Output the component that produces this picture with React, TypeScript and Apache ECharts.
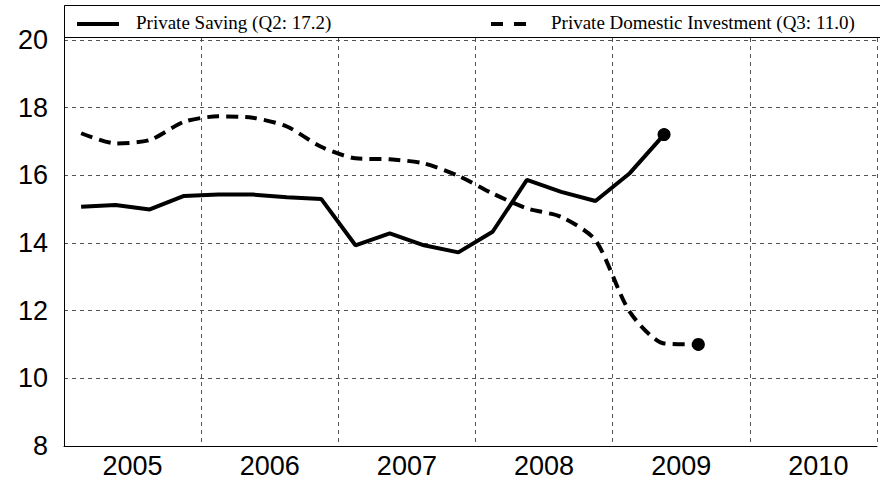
import React, { useEffect, useRef } from "react";
import * as echarts from "echarts";

const years = ["2005", "2006", "2007", "2008", "2009", "2010"];
// quarterly values starting 2005 Q1
const privateSaving = [15.07, 15.12, 14.99, 15.39, 15.43, 15.43, 15.35, 15.3, 13.93, 14.28, 13.93, 13.72, 14.33, 15.86, 15.51, 15.24, 16.06, 17.2];
const privateInvestment = [17.24, 16.94, 17.04, 17.58, 17.74, 17.7, 17.44, 16.84, 16.5, 16.47, 16.35, 15.98, 15.46, 15.02, 14.77, 14.08, 11.96, 11.03, 11.0];
const legendLabels = ["Private Saving (Q2: 17.2)", "Private Domestic Investment (Q3: 11.0)"];
const yTicks = [8, 10, 12, 14, 16, 18, 20];

const toPoints = (arr: number[]) => arr.map((v, i) => [i + 0.5, v]);

export default function App() {
  const ref = useRef<HTMLDivElement>(null);
  useEffect(() => {
    if (!ref.current) return;
    const chart = echarts.init(ref.current, undefined, { renderer: "svg" });
    const sav = toPoints(privateSaving);
    const inv = toPoints(privateInvestment);
    const xMax = 23.71;
    const grid = { left: 64, right: 0, top: 6, bottom: 36 };
    const gridDash = { color: "#555", width: 1, type: [4, 4] as any };
    const sans = "Liberation Sans";
    const serif = "Liberation Serif";
    chart.setOption({
      animation: false,
      backgroundColor: "#fff",
      grid,
      xAxis: [
        {
          type: "value",
          min: 0,
          max: xMax,
          interval: 4,
          axisLine: { show: true, onZero: false, lineStyle: { color: "#000", width: 1 } },
          axisTick: { show: false },
          axisLabel: { show: false },
          splitLine: { show: true, lineStyle: gridDash },
        },
        {
          type: "value",
          position: "bottom",
          min: 0,
          max: xMax,
          interval: 2,
          axisLine: { show: false },
          axisTick: { show: false },
          splitLine: { show: false },
          axisLabel: {
            show: true,
            margin: 6,
            fontFamily: sans,
            fontSize: 27,
            color: "#000",
            showMinLabel: true,
            showMaxLabel: true,
            formatter: (v: number) => {
              const r = Math.round(v);
              if (Math.abs(v - r) > 1e-6 || r % 4 !== 2) return "";
              return years[(r - 2) / 4] ?? "";
            },
          },
        },
      ],
      yAxis: {
        type: "value",
        min: 8,
        max: 21,
        interval: 2,
        axisLine: { show: true, lineStyle: { color: "#000", width: 1 } },
        axisTick: { show: false },
        splitLine: { show: true, lineStyle: gridDash },
        axisLabel: {
          margin: 16,
          fontFamily: sans,
          fontSize: 27,
          color: "#000",
          formatter: (v: number) => (yTicks.includes(v) ? String(v) : ""),
        },
      },
      series: [
        {
          type: "line",
          name: legendLabels[0],
          data: sav,
          symbol: "none",
          lineStyle: { color: "#000", width: 4 },
          z: 3,
        },
        {
          type: "line",
          name: legendLabels[1],
          data: inv,
          symbol: "none",
          smooth: 0.25,
          lineStyle: { color: "#000", width: 4, type: [12, 7] },
          z: 3,
        },
        {
          type: "scatter",
          data: [sav[sav.length - 1], inv[inv.length - 1]],
          symbol: "circle",
          symbolSize: 13,
          itemStyle: { color: "#000", opacity: 1 },
          z: 4,
        },
      ],
      graphic: [
        {
          type: "rect",
          shape: { x: 64.5, y: 5.5, width: 830, height: 32 },
          style: { fill: "#fff", stroke: "#000", lineWidth: 1 },
          z: 100,
        },
        {
          type: "line",
          shape: { x1: 77, y1: 24, x2: 119, y2: 24 },
          style: { stroke: "#000", lineWidth: 4 },
          z: 101,
        },
        {
          type: "text",
          x: 136,
          y: 22,
          style: {
            text: legendLabels[0],
            fontFamily: serif,
            fontSize: 19,
            fill: "#000",
            verticalAlign: "middle",
          },
          z: 101,
        },
        {
          type: "line",
          shape: { x1: 491, y1: 24, x2: 527, y2: 24 },
          style: { stroke: "#000", lineWidth: 4, lineDash: [12, 11] },
          z: 101,
        },
        {
          type: "text",
          x: 551,
          y: 22,
          style: {
            text: legendLabels[1],
            fontFamily: serif,
            fontSize: 19,
            fill: "#000",
            verticalAlign: "middle",
          },
          z: 101,
        },
      ],
    });
    return () => chart.dispose();
  }, []);
  return (
    <div
      ref={ref}
      style={{ position: "fixed", left: 0, top: 0, width: 880, height: 482 }}
    />
  );
}
